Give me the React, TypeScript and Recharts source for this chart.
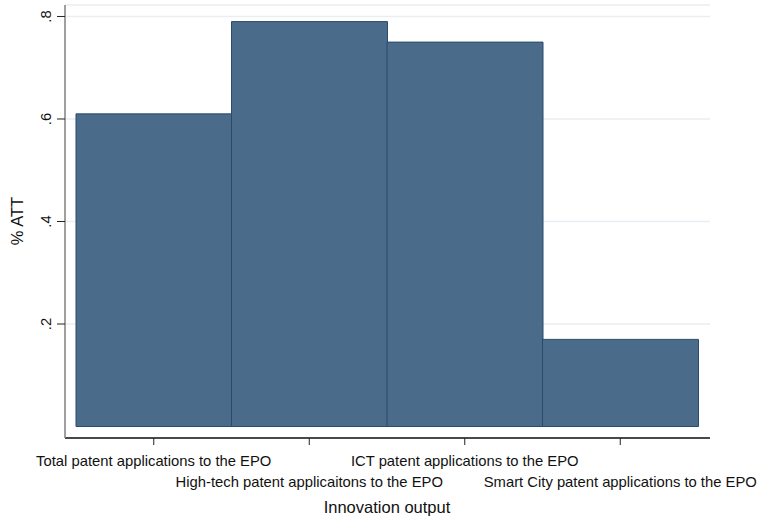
import { BarChart, Bar, XAxis, YAxis, CartesianGrid } from 'recharts';

const categories = [
  'Total patent applications to the EPO',
  'High-tech patent applicaitons to the EPO',
  'ICT patent applications to the EPO',
  'Smart City patent applications to the EPO',
];
const attValues = [0.61, 0.79, 0.75, 0.17];
const yTicks = [0.2, 0.4, 0.6, 0.8];

const data = categories.map((name, i) => ({ name, att: attValues[i] }));

const FONT = '"Liberation Sans", Arial, Helvetica, sans-serif';
const BAR_FILL = '#4b6b8a';
const BAR_EDGE = '#2c4a6c';

const fmtTick = (v: number) => v.toFixed(1).replace(/^0/, '');

function XTick(props: any) {
  const { x, y, payload, index } = props;
  const dy = index % 2 === 0 ? 14 : 35;
  return (
    <text x={x} y={y + dy} textAnchor="middle" dominantBaseline="central" fontFamily={FONT} fontSize={14.8} fill="#111">
      {payload.value}
    </text>
  );
}

function YTick(props: any) {
  const { x, y, payload } = props;
  const cx = x - 9;
  return (
    <text x={cx} y={y} textAnchor="middle" dominantBaseline="central" fontFamily={FONT} fontSize={14.8} fill="#111" transform={`rotate(-90, ${cx}, ${y})`}>
      {fmtTick(payload.value)}
    </text>
  );
}

export default function App() {
  return (
    <div style={{ position: 'absolute', left: 0, top: 0, width: 763, height: 519, background: '#fff' }}>
      <BarChart width={763} height={519} data={data} margin={{ top: 5, right: 53, bottom: 0, left: 0 }} barCategoryGap={0}>
        <CartesianGrid vertical={false} stroke="#e8eef2" strokeWidth={1.5} />
        <XAxis
          dataKey="name"
          height={81}
          padding={{ left: 11, right: 12 }}
          axisLine={{ stroke: '#111', strokeWidth: 1.5 }}
          tickLine={{ stroke: '#222' }}
          tickSize={7}
          tick={<XTick />}
          interval={0}
          label={{
            content: () => (
              <text x={387} y={507} textAnchor="middle" dominantBaseline="central" fontFamily={FONT} fontSize={16.5} fill="#111">
                Innovation output
              </text>
            ),
          }}
        />
        <YAxis
          type="number"
          width={65}
          domain={[-0.0224, 0.8224]}
          ticks={yTicks}
          allowDataOverflow
          axisLine={{ stroke: '#808080', strokeWidth: 1.5 }}
          tickLine={{ stroke: '#222' }}
          tickSize={8}
          tick={<YTick />}
          label={{
            content: () => (
              <text x={17} y={221} textAnchor="middle" dominantBaseline="central" fontFamily={FONT} fontSize={16.5} fill="#111" transform="rotate(-90, 17, 221)">
                % ATT
              </text>
            ),
          }}
        />
        <Bar dataKey="att" fill={BAR_FILL} stroke={BAR_EDGE} strokeWidth={1} isAnimationActive={false} />
      </BarChart>
    </div>
  );
}
